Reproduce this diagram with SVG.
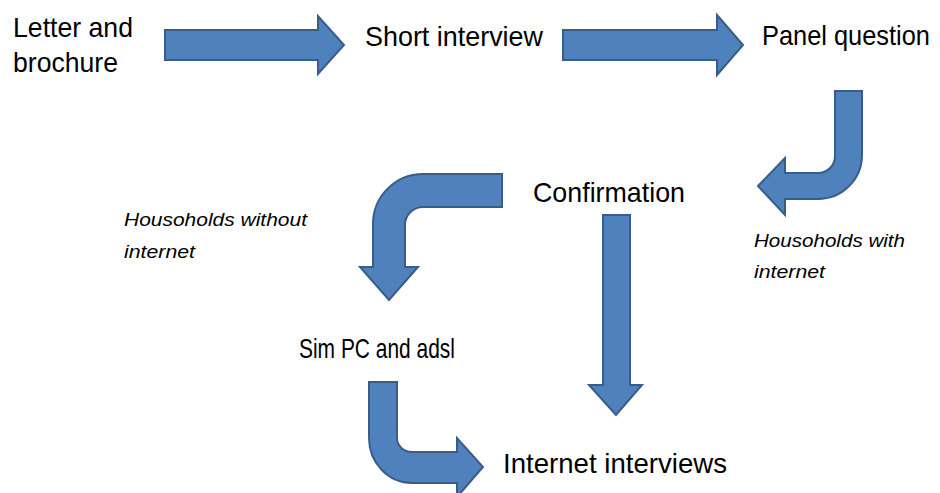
<svg xmlns="http://www.w3.org/2000/svg" width="940" height="493" viewBox="0 0 940 493">
<style>
.arr{fill:#4F81BD;stroke:#385D8A;stroke-width:2;stroke-linejoin:miter}
.t{font-family:"Liberation Sans",Arial,sans-serif;font-size:28px;fill:#000}
.i{font-family:"Liberation Sans",Arial,sans-serif;font-size:19px;font-style:italic;fill:#000}
</style>
<rect width="940" height="493" fill="#fff"/>
<g id="connectors">
<path class="arr" d="M165 30 L318 30 L318 16 L344 45 L318 74 L318 60 L165 60 Z"/>
<path class="arr" d="M563 30 L717 30 L717 15 L743 45 L717 75 L717 60 L563 60 Z"/>
<path class="arr" d="M835 91 L862 91 L862 155 A44 44 0 0 1 818 199 L785 199 L785 215 L758 186 L785 158 L785 173 L818 173 A17 17 0 0 0 835 156 Z"/>
<path class="arr" d="M502 174 L423 174 A50 50 0 0 0 373 224 L373 267 L360 267 L389 300 L418 267 L405 267 L405 225 A18 18 0 0 1 423 207 L502 207 Z"/>
<path class="arr" d="M603 215 L630 215 L630 385 L642 385 L616 415 L589 385 L603 385 Z"/>
<path class="arr" d="M369 382 L397 382 L397 438 A15 14 0 0 0 412 452 L457 452 L457 438 L483 467 L457 497 L457 483 L412 483 A43 45 0 0 1 369 438 Z"/>
</g>
<g id="letter">
<text class="t" x="13" y="37" textLength="120" lengthAdjust="spacingAndGlyphs">Letter and</text>
<text class="t" x="13" y="72" textLength="105" lengthAdjust="spacingAndGlyphs">brochure</text>
</g>
<g id="short"><text class="t" x="365" y="46" textLength="178" lengthAdjust="spacingAndGlyphs">Short interview</text></g>
<g id="panel"><text class="t" x="762" y="45" font-size="26" textLength="168" lengthAdjust="spacingAndGlyphs">Panel question</text></g>
<g id="confirmation"><text class="t" x="533" y="202" textLength="152" lengthAdjust="spacingAndGlyphs">Confirmation</text></g>
<g id="simpc"><text class="t" x="299" y="358" font-size="25" textLength="156" lengthAdjust="spacingAndGlyphs">Sim PC and adsl</text></g>
<g id="internet"><text class="t" x="503" y="473" textLength="224" lengthAdjust="spacingAndGlyphs">Internet interviews</text></g>
<g id="label-without">
<text class="i" x="124" y="226" textLength="183" lengthAdjust="spacingAndGlyphs">Housoholds without</text>
<text class="i" x="124" y="258" textLength="71" lengthAdjust="spacingAndGlyphs">internet</text>
</g>
<g id="label-with">
<text class="i" x="754" y="247" textLength="151" lengthAdjust="spacingAndGlyphs">Housoholds with</text>
<text class="i" x="754" y="278" textLength="71" lengthAdjust="spacingAndGlyphs">internet</text>
</g>
</svg>
